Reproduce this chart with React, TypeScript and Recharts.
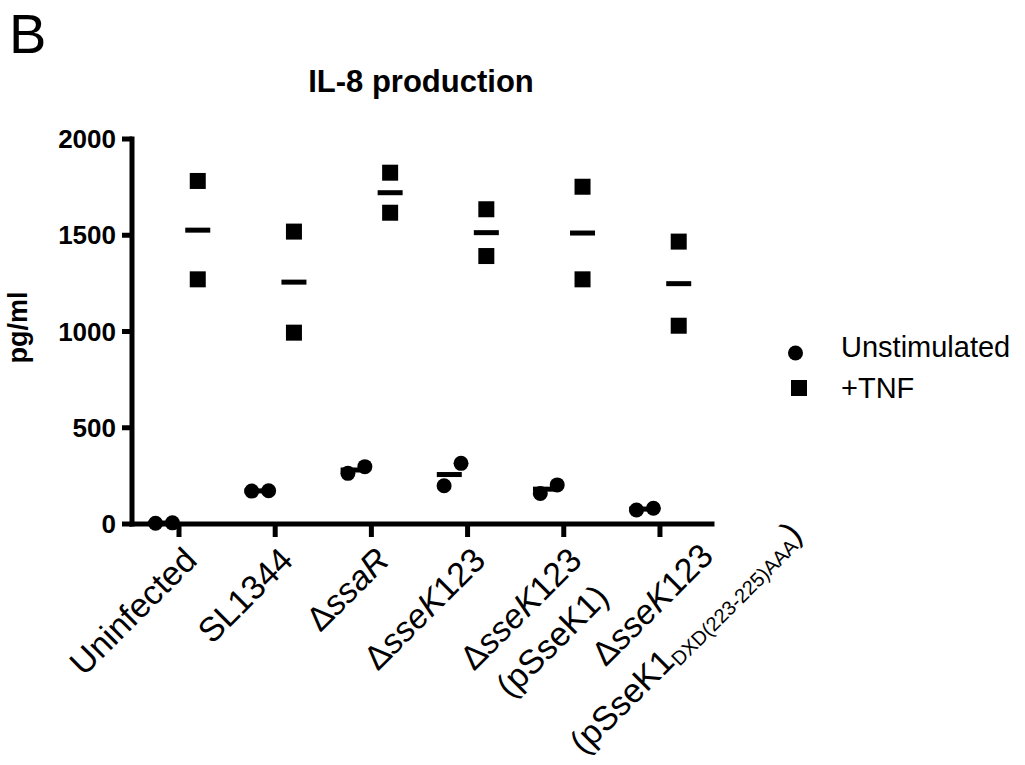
import React from 'react';
import { ScatterChart, Scatter, XAxis, YAxis, Legend } from 'recharts';

const FONT = '"Liberation Sans", Arial, Helvetica, sans-serif';

// group names, in plot order
const CATEGORIES = [
  'Uninfected',
  'SL1344',
  'ΔssaR',
  'ΔsseK123',
  'ΔsseK123 (pSseK1)',
  'ΔsseK123 (pSseK1 DXD(223-225)AAA)',
];
// pg/ml, two replicates per group
const UNSTIMULATED = [[4, 6], [171, 173], [263, 298], [199, 315], [159, 203], [73, 82]];
const TNF = [[1782, 1271], [1519, 994], [1825, 1617], [1635, 1392], [1752, 1271], [1467, 1030]];
const Y_TICKS = [0, 500, 1000, 1500, 2000];

// rich tick text: lines of segments (italic gene names, subscript)
type Seg = { t: string; it?: boolean; sub?: boolean };
const TICK_LINES: Seg[][][] = [
  [[{ t: 'Uninfected' }]],
  [[{ t: 'SL1344' }]],
  [[{ t: 'Δ' }, { t: 'ssaR', it: true }]],
  [[{ t: 'Δ' }, { t: 'sseK', it: true }, { t: '123' }]],
  [[{ t: 'Δ' }, { t: 'sseK', it: true }, { t: '123' }], [{ t: '(pSseK1)' }]],
  [
    [{ t: 'Δ' }, { t: 'sseK', it: true }, { t: '123' }],
    [{ t: '(pSseK1' }, { t: 'DXD(223-225)AAA', sub: true }, { t: ')' }],
  ],
];
// end of each line's baseline, in the rotated frame, relative to tick / axis
const LABEL_POS = [
  [[-13, 41]],
  [[-13, 41]],
  [[-13, 41]],
  [[-13, 41]],
  [[-13, 41], [-20, 86]],
  [[15, 63], [93, 110]],
];

const X_TICK = 13;
const UNSTIM_OFF = -0.19;
const TNF_OFF = 0.195;
const JITTER = [-0.054, 0.122];

const mean = (a: number[]) => a.reduce((s, v) => s + v, 0) / a.length;

const unstimData = UNSTIMULATED.flatMap((vals, i) =>
  vals.map((y, j) => ({ x: i + UNSTIM_OFF + JITTER[j], y }))
);
const tnfData = TNF.flatMap((vals, i) => vals.map((y) => ({ x: i + TNF_OFF, y })));
const meanData = [
  ...UNSTIMULATED.map((vals, i) => ({ x: i + UNSTIM_OFF, y: mean(vals) })),
  ...TNF.map((vals, i) => ({ x: i + TNF_OFF, y: mean(vals) })),
];

const Dot = (p: any) => <circle cx={p.cx} cy={p.cy} r={7.5} fill="#000" />;
const Box = (p: any) => <rect x={p.cx - 8} y={p.cy - 8} width={16} height={16} fill="#000" />;
const Bar = (p: any) => <rect x={p.cx - 12.5} y={p.cy - 2.5} width={25} height={5} fill="#000" />;

function CategoryTick({ x, y, payload }: any) {
  const idx = Math.round(payload.value);
  const lines = TICK_LINES[idx];
  const pos = LABEL_POS[idx];
  if (!lines) return null;
  return (
    <g transform={`translate(${x},${y - X_TICK}) rotate(-45)`}>
      {lines.map((segs, li) => {
        let shift = 0;
        return (
          <text
            key={li}
            x={pos[li][0]}
            y={pos[li][1]}
            textAnchor="end"
            fontSize={34}
            fontFamily={FONT}
            fill="#000"
          >
            {segs.map((s, si) => {
              const want = s.sub ? 5 : 0;
              const dy = want - shift;
              shift = want;
              return (
                <tspan
                  key={si}
                  dy={dy || undefined}
                  fontStyle={s.it ? 'italic' : undefined}
                  fontSize={s.sub ? 20 : undefined}
                >
                  {s.t}
                </tspan>
              );
            })}
          </text>
        );
      })}
    </g>
  );
}

const LEGEND_ROWS = [
  { icon: 28, text: 32 },
  { icon: 63, text: 73 },
];

function LegendContent({ payload }: any) {
  const items = (payload ?? [])
    .filter((e: any) => e.type === 'circle' || e.type === 'square')
    .sort((a: any, b: any) => (a.type === 'circle' ? -1 : 1) - (b.type === 'circle' ? -1 : 1));
  return (
    <svg width={245} height={95} style={{ display: 'block' }}>
      {items.slice(0, 2).map((e: any, i: number) => (
        <g key={String(e.value)}>
          {e.type === 'circle' ? (
            <circle cx={15.5} cy={LEGEND_ROWS[i].icon} r={7.5} fill="#000" />
          ) : (
            <rect x={11} y={LEGEND_ROWS[i].icon - 8} width={16} height={16} fill="#000" />
          )}
          <text x={61} y={LEGEND_ROWS[i].text} fontSize={29} fontFamily={FONT} fill="#000">
            {e.value}
          </text>
        </g>
      ))}
    </svg>
  );
}

const YLabel = (p: any) => {
  const vb = p.viewBox;
  if (!vb) return null;
  const cx = vb.x - 5;
  const cy = vb.y + vb.height / 2 - 4;
  return (
    <text
      x={cx}
      y={cy}
      transform={`rotate(-90 ${cx} ${cy})`}
      textAnchor="middle"
      fontSize={27}
      fontWeight={700}
      fontFamily={FONT}
      fill="#000"
    >
      pg/ml
    </text>
  );
};

export default function App() {
  return (
    <div style={{ position: 'absolute', left: 0, top: 0, width: 1025, height: 765, background: '#fff' }}>
      <div
        style={{
          position: 'absolute',
          left: 9,
          top: 1,
          fontFamily: FONT,
          fontSize: 56,
          lineHeight: 'normal',
          color: '#000',
        }}
      >
        B
      </div>
      <div
        style={{
          position: 'absolute',
          left: 221,
          top: 64,
          width: 400,
          textAlign: 'center',
          fontFamily: FONT,
          fontSize: 31,
          fontWeight: 700,
          lineHeight: 'normal',
          color: '#000',
        }}
      >
        IL-8 production
      </div>
      <ScatterChart
        width={1025}
        height={765}
        margin={{ top: 139, right: 313, bottom: 211, left: 32 }}
      >
        <XAxis
          type="number"
          dataKey="x"
          domain={[-0.4886, 5.541]}
          ticks={CATEGORIES.map((_, i) => i)}
          allowDataOverflow
          height={30}
          tickSize={X_TICK}
          tickMargin={0}
          axisLine={{ stroke: '#000', strokeWidth: 5, strokeLinecap: 'square' }}
          tickLine={{ stroke: '#000', strokeWidth: 5 }}
          tick={<CategoryTick />}
          interval={0}
        />
        <YAxis
          type="number"
          dataKey="y"
          domain={[0, 2000]}
          ticks={Y_TICKS}
          width={100}
          tickSize={10}
          tickMargin={6}
          axisLine={{ stroke: '#000', strokeWidth: 5, strokeLinecap: 'square' }}
          tickLine={{ stroke: '#000', strokeWidth: 5 }}
          tick={{ fill: '#000', fontSize: 26, fontWeight: 700, fontFamily: FONT }}
          label={{ content: YLabel }}
        />
        <Scatter name="mean" data={meanData} shape={Bar} legendType="none" isAnimationActive={false} />
        <Scatter
          name="Unstimulated"
          data={unstimData}
          shape={Dot}
          legendType="circle"
          isAnimationActive={false}
        />
        <Scatter name="+TNF" data={tnfData} shape={Box} legendType="square" isAnimationActive={false} />
        <Legend
          layout="vertical"
          align="center"
          verticalAlign="middle"
          wrapperStyle={{ position: 'absolute', left: 780, top: 325, width: 245, height: 95 }}
          content={<LegendContent />}
        />
      </ScatterChart>
    </div>
  );
}
